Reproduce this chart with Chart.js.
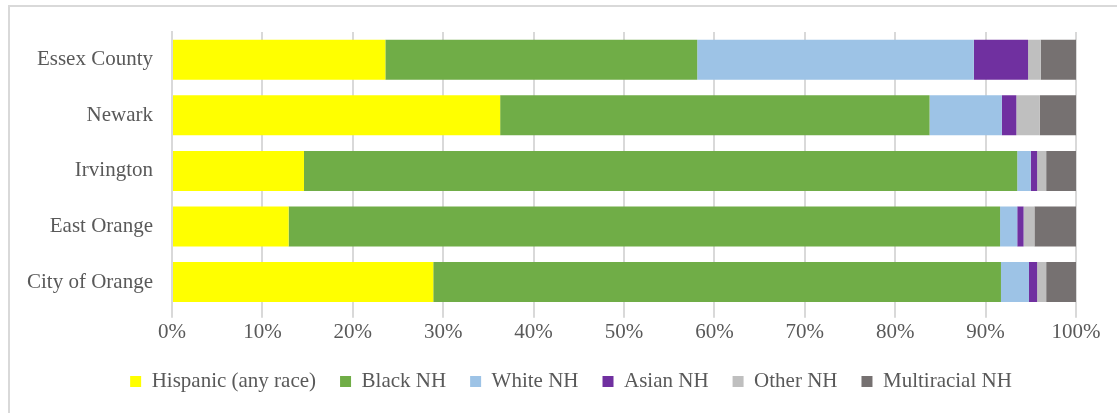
<!DOCTYPE html>
<html>
<head>
<meta charset="utf-8">
<script src="https://cdn.jsdelivr.net/npm/chart.js@4/dist/chart.umd.min.js"></script>
<style>
  html, body { margin: 0; padding: 0; background: #fff; }
  #wrap {
    position: absolute; left: 8px; top: 5px;
    width: 1109px; height: 408px;
    border-left: 2px solid #d9d9d9; border-top: 2px solid #d9d9d9;
    box-sizing: border-box;
  }
  #holder { position: absolute; left: 0; top: 0; width: 1107px; height: 406px; }
</style>
</head>
<body>
<div id="wrap"><div id="holder"><canvas id="grafico"></canvas></div></div>
<script>
const lugares = ['Essex County', 'Newark', 'Irvington', 'East Orange', 'City of Orange'];

// porcentaje de la población por grupo
const hispanos   = [23.6, 36.3, 14.6, 12.9, 28.9];
const negros     = [34.5, 47.5, 78.9, 78.7, 62.8];
const blancos    = [30.6,  8.0,  1.5,  1.9,  3.1];
const asiaticos  = [ 6.0,  1.6,  0.7,  0.7,  0.9];
const otros      = [ 1.4,  2.6,  1.0,  1.2,  1.0];
const multirracial = [3.9, 4.0,  3.3,  4.6,  3.3];

const marcasX = [0, 10, 20, 30, 40, 50, 60, 70, 80, 90, 100];

const fuente = "'Liberation Serif', 'DejaVu Serif', serif";
const gris = '#595959';

function serie(nombre, datos, color) {
  return {
    label: nombre,
    data: datos,
    backgroundColor: color,
    borderWidth: 0,
    barPercentage: 0.72,
    categoryPercentage: 1.0
  };
}

new Chart(document.getElementById('grafico'), {
  type: 'bar',
  data: {
    labels: lugares,
    datasets: [
      serie('Hispanic (any race)', hispanos, '#ffff00'),
      serie('Black NH', negros, '#70ad47'),
      serie('White NH', blancos, '#9dc3e6'),
      serie('Asian NH', asiaticos, '#7030a0'),
      serie('Other NH', otros, '#bfbfbf'),
      serie('Multiracial NH', multirracial, '#767171')
    ]
  },
  options: {
    indexAxis: 'y',
    responsive: true,
    maintainAspectRatio: false,
    animation: false,
    layout: { padding: { left: 15, right: 0, top: 25, bottom: 11 } },
    scales: {
      x: {
        stacked: true,
        min: 0,
        max: 100,
        afterBuildTicks: (eje) => { eje.ticks = marcasX.map(v => ({ value: v })); },
        grid: { color: '#d9d9d9', lineWidth: 2, drawTicks: true, tickLength: 8 },
        border: { display: false },
        ticks: {
          callback: (v) => v + '%',
          color: gris,
          font: { family: fuente, size: 21 },
          padding: 2,
          maxRotation: 0
        }
      },
      y: {
        stacked: true,
        afterFit: (eje) => { eje.width = 147; },
        // separación de las etiquetas con tickLength, sin dibujar marcas
        grid: { display: false, drawTicks: true, tickLength: 19 },
        border: { display: true, color: '#d9d9d9', width: 2 },
        ticks: {
          color: gris,
          font: { family: fuente, size: 21 },
          padding: 0
        }
      },
      // eje vacío a la derecha: sólo reserva margen, la leyenda sigue centrada en todo el ancho
      margen: {
        type: 'category',
        position: 'right',
        afterFit: (eje) => { eje.width = 41; },
        grid: { display: false, drawTicks: false },
        border: { display: false },
        ticks: { display: false }
      }
    },
    plugins: {
      legend: {
        position: 'bottom',
        labels: {
          boxWidth: 11,
          boxHeight: 11,
          padding: 24,
          color: gris,
          font: { family: fuente, size: 21 }
        }
      },
      tooltip: { enabled: false }
    }
  }
});
</script>
</body>
</html>
